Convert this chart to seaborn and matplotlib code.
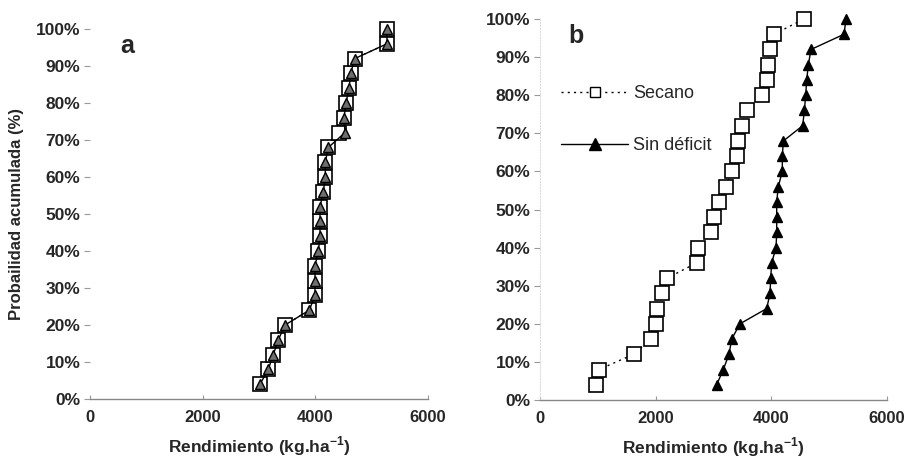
import matplotlib
matplotlib.use("Agg")
import matplotlib.pyplot as plt
from matplotlib.lines import Line2D
from matplotlib.ticker import PercentFormatter
import seaborn as sns
import pandas as pd

# probabilidad acumulada (%) de cada año ordenado
prob = [4, 8, 12, 16, 20, 24, 28, 32, 36, 40, 44, 48, 52,
        56, 60, 64, 68, 72, 76, 80, 84, 88, 92, 96, 100]

# panel a
secano_a = [3018, 3165, 3254, 3343, 3462, 3893, 3994, 3994, 3994, 4053, 4083, 4083, 4083,
            4142, 4177, 4177, 4231, 4426, 4509, 4545, 4598, 4628, 4699, 5272, 5272]
sindef_a = [3018, 3165, 3254, 3343, 3462, 3893, 3994, 3994, 3994, 4053, 4083, 4083, 4083,
            4142, 4177, 4177, 4231, 4527, 4509, 4545, 4598, 4628, 4699, 5272, 5272]

# panel b
secano_b = [963, 1020, 1620, 1914, 2001, 2023, 2115, 2201, 2710, 2737, 2957, 3017, 3100,
            3211, 3315, 3407, 3429, 3488, 3579, 3834, 3920, 3948, 3977, 4046, 4565]
sindef_b = [3055, 3170, 3268, 3315, 3458, 3920, 3977, 3989, 4006, 4081, 4093, 4093, 4093,
            4120, 4190, 4190, 4208, 4542, 4571, 4594, 4611, 4640, 4686, 5257, 5291]

x_ticks = [0, 2000, 4000, 6000]
y_ticks = [0, 10, 20, 30, 40, 50, 60, 70, 80, 90, 100]

sns.set_style("white")
plt.rcParams['font.family'] = ['Liberation Sans', 'DejaVu Sans']
plt.rcParams['mathtext.fontset'] = 'custom'
plt.rcParams['mathtext.rm'] = 'Liberation Sans'
plt.rcParams['mathtext.bf'] = 'Liberation Sans:bold'

fig = plt.figure(figsize=(9.07, 4.66), dpi=100)
ax_a = fig.add_axes([90 / 907, 67 / 466, 338 / 907, 370 / 466])
ax_b = fig.add_axes([540 / 907, 66 / 466, 347 / 907, 381 / 466])


def dibujar(ax, secano, sindef, tri_face, tri_size):
    df = pd.DataFrame({'prob': prob, 'secano': secano, 'sindef': sindef})
    sns.lineplot(data=df, x='secano', y='prob', ax=ax, estimator=None, sort=False,
                 color='black', linestyle=(0, (1.5, 3)), linewidth=1.0,
                 marker='s', markersize=10.5, markerfacecolor='white',
                 markeredgecolor='black', markeredgewidth=1.2)
    sns.lineplot(data=df, x='sindef', y='prob', ax=ax, estimator=None, sort=False,
                 color='black', linestyle='-', linewidth=1.0,
                 marker='^', markersize=tri_size, markerfacecolor=tri_face,
                 markeredgecolor='black', markeredgewidth=1.0)
    ax.set_xlim(0, 6000)
    ax.set_ylim(0, 100)
    ax.set_xticks(x_ticks)
    ax.set_yticks(y_ticks)
    ax.yaxis.set_major_formatter(PercentFormatter(decimals=0))
    for lab in ax.get_xticklabels():
        lab.set_fontweight('bold')
        lab.set_fontsize(12)
    for lab in ax.get_yticklabels():
        lab.set_fontweight('bold')
        lab.set_fontsize(12.5)
    ax.tick_params(axis='y', direction='out', length=4, color='#999999', pad=3, left=True)
    ax.tick_params(axis='x', direction='in', length=3, color='#999999', pad=8, bottom=True)
    for s in ['top', 'right']:
        ax.spines[s].set_visible(False)
    ax.spines['left'].set_color('#dddddd')
    ax.spines['left'].set_linestyle(':')
    ax.spines['left'].set_linewidth(0.8)
    ax.spines['bottom'].set_color('#888888')
    ax.spines['bottom'].set_linewidth(1.0)
    ax.set_xlabel(r'Rendimiento (kg.ha$^{\mathbf{-1}}$)', fontsize=12.5, fontweight='bold', labelpad=7)
    ax.set_ylabel('')
    for l in ax.lines:
        l.set_clip_on(False)


dibujar(ax_a, secano_a, sindef_a, '#6e6e6e', 7)
dibujar(ax_b, secano_b, sindef_b, 'black', 7.5)

ax_a.set_ylabel('Probailidad acumulada (%)', fontsize=12, fontweight='bold', labelpad=6)
ax_a.yaxis.set_label_coords(-0.195, 0.5)
ax_a.spines['left'].set_visible(False)

ax_a.text(0.11, 0.955, 'a', transform=ax_a.transAxes, fontsize=18, fontweight='bold',
          ha='center', va='center')
ax_b.text(0.105, 0.955, 'b', transform=ax_b.transAxes, fontsize=18, fontweight='bold',
          ha='center', va='center')

handles = [
    Line2D([], [], color='black', linestyle=(0, (1.5, 3)), linewidth=1.0, marker='s',
           markersize=7, markerfacecolor='white', markeredgecolor='black', markeredgewidth=1.0),
    Line2D([], [], color='black', linestyle='-', linewidth=1.0, marker='^',
           markersize=8, markerfacecolor='black', markeredgecolor='black'),
]
ax_b.legend(handles, ['Secano', 'Sin déficit'], loc='upper left',
            bbox_to_anchor=(0.035, 0.85), frameon=False, fontsize=13,
            handlelength=3.7, handletextpad=0.3, labelspacing=1.95, borderpad=0)

fig.savefig('out.png', dpi=100)
